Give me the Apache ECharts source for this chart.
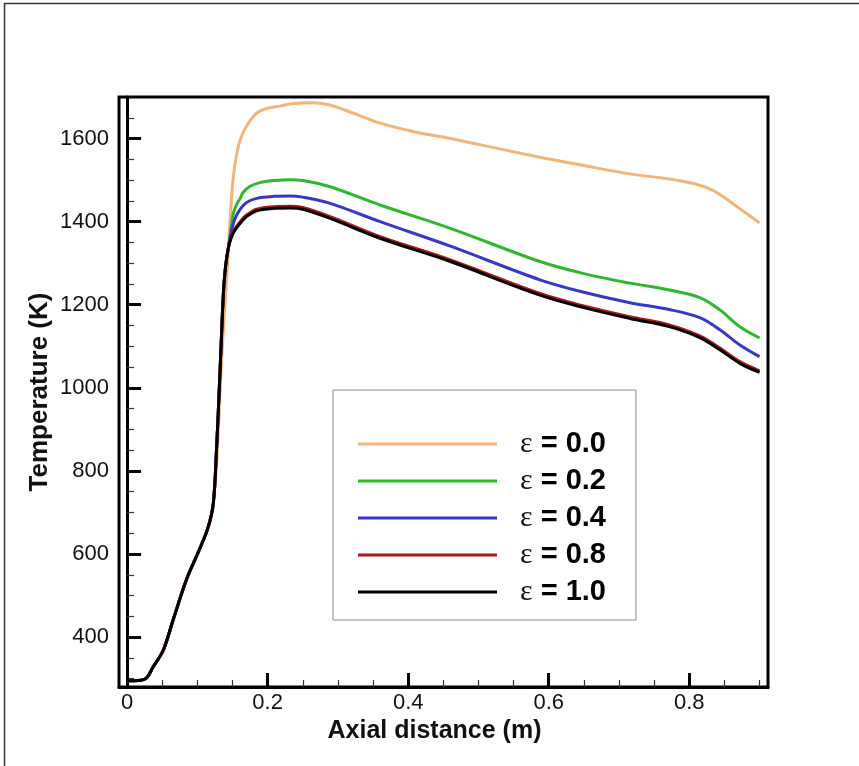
<!DOCTYPE html>
<html>
<head>
<meta charset="utf-8">
<script src="https://cdn.jsdelivr.net/npm/echarts@6/dist/echarts.min.js"></script>
<style>
html,body{margin:0;padding:0;background:#fff;}
#chart{width:859px;height:766px;}
</style>
</head>
<body>
<div id="chart"></div>
<script>
// ---- Data ----
const seriesNames = ['ε = 0.0', 'ε = 0.2', 'ε = 0.4', 'ε = 0.8', 'ε = 1.0'];
const seriesColors = ['#F2B578', '#2DB82D', '#3838C8', '#B01818', '#000000'];

// shared inlet / ignition part (all curves coincide)
const riseX = [0, 0.01, 0.02, 0.028, 0.037, 0.0516, 0.0658, 0.0848, 0.1037, 0.1156, 0.1227, 0.1275, 0.131, 0.134, 0.137, 0.140, 0.144];
const riseT = [295, 295, 296, 302, 328, 369, 443, 540, 614, 666, 722, 860, 990, 1110, 1225, 1290, 1336];

// ε = 0.0 departs from the common curve earlier
const e00X = [0.128, 0.1315, 0.135, 0.1385, 0.1417, 0.145, 0.148, 0.151, 0.156, 0.161, 0.17, 0.1844, 0.2, 0.2176, 0.232, 0.265, 0.285, 0.303, 0.33, 0.36, 0.407, 0.46, 0.5, 0.5875, 0.65, 0.7156, 0.77, 0.81, 0.835, 0.863, 0.9];
const e00T = [840, 960, 1080, 1180, 1260, 1360, 1440, 1505, 1563, 1597, 1630, 1661, 1673, 1678, 1683, 1686, 1682, 1673, 1656, 1637, 1617, 1600, 1586, 1555, 1535, 1515, 1503, 1490, 1474, 1442, 1397];

const e02X = [0.147, 0.151, 0.156, 0.161, 0.165, 0.175, 0.189, 0.21, 0.232, 0.25, 0.289, 0.36, 0.46, 0.5875, 0.65, 0.7156, 0.77, 0.815, 0.844, 0.872, 0.9];
const e02T = [1372, 1418, 1442, 1456, 1470, 1485, 1494, 1499, 1501, 1499, 1484, 1440, 1384, 1304, 1275, 1252, 1236, 1217, 1187, 1147, 1120];

const e04X = [0.148, 0.153, 0.161, 0.17, 0.1844, 0.21, 0.232, 0.25, 0.289, 0.36, 0.46, 0.5875, 0.65, 0.7156, 0.77, 0.815, 0.844, 0.872, 0.9];
const e04T = [1375, 1405, 1430, 1446, 1456, 1461, 1462, 1459, 1444, 1400, 1341, 1260, 1230, 1205, 1189, 1169, 1139, 1103, 1075];

const e08X = [0.148, 0.153, 0.161, 0.17, 0.1844, 0.21, 0.232, 0.25, 0.289, 0.36, 0.46, 0.5875, 0.65, 0.7156, 0.77, 0.815, 0.844, 0.872, 0.9];
const e08T = [1363, 1382, 1400, 1416, 1430, 1436, 1437, 1434, 1412, 1364, 1308, 1227, 1197, 1171, 1152, 1125, 1095, 1063, 1041];

const e10X = [0.148, 0.153, 0.161, 0.17, 0.1844, 0.21, 0.232, 0.25, 0.289, 0.36, 0.46, 0.5875, 0.65, 0.7156, 0.77, 0.815, 0.844, 0.872, 0.9];
const e10T = [1360, 1378, 1396, 1412, 1426, 1432, 1433, 1430, 1408, 1360, 1304, 1223, 1193, 1167, 1148, 1121, 1091, 1059, 1037];

// axes
const xMajorTicks = [0, 0.2, 0.4, 0.6, 0.8];
const xMinorTicks = [0.05, 0.1, 0.15, 0.25, 0.3, 0.35, 0.45, 0.5, 0.55, 0.65, 0.7, 0.75, 0.85, 0.9];
const yMajorTicks = [400, 600, 800, 1000, 1200, 1400, 1600];
const yMinorTicks = [300, 350, 450, 500, 550, 650, 700, 750, 850, 900, 950, 1050, 1100, 1150, 1250, 1300, 1350, 1450, 1500, 1550, 1650];
const xName = 'Axial distance (m)';
const yName = 'Temperature (K)';

// ---- build ----
function pairs(xs, ts) { return xs.map((x, i) => [x, ts[i]]); }
const orangeRise = pairs(riseX.slice(0, 11), riseT.slice(0, 11));
const fullRise = pairs(riseX, riseT);
const dataSets = [
  orangeRise.concat(pairs(e00X, e00T)),
  fullRise.concat(pairs(e02X, e02T)),
  fullRise.concat(pairs(e04X, e04T)),
  fullRise.concat(pairs(e08X, e08T)),
  fullRise.concat(pairs(e10X, e10T))
];

const X_MIN = -0.0115, X_MAX = 0.912, Y_MIN = 280, Y_MAX = 1700;
const font = 'Liberation Sans, Arial, sans-serif';

const chart = echarts.init(document.getElementById('chart'), null, {renderer: 'canvas'});

const option = {
  backgroundColor: '#ffffff',
  animation: false,
  grid: {
    left: 119, right: 91, top: 97, bottom: 79,
    show: true, borderColor: '#000', borderWidth: 3, backgroundColor: 'transparent'
  },
  xAxis: [{
    type: 'value', min: X_MIN, max: X_MAX, position: 'bottom',
    name: xName, nameLocation: 'middle', nameGap: 30,
    nameTextStyle: {fontFamily: font, fontSize: 25, fontWeight: 'bold', color: '#111', padding: [0, 18, 0, 0]},
    axisLine: {show: true, lineStyle: {color: '#000', width: 3}},
    axisTick: {show: true, inside: true, length: 14, customValues: xMajorTicks, lineStyle: {color: '#000', width: 3}},
    axisLabel: {show: true, margin: 5, customValues: xMajorTicks, fontFamily: font, fontSize: 22, color: '#111',
      formatter: v => (Math.abs(v) < 1e-9 ? '0' : String(+v.toFixed(1)))},
    splitLine: {show: false}
  }, {
    type: 'value', min: X_MIN, max: X_MAX, position: 'bottom',
    axisLine: {show: false},
    axisTick: {show: true, inside: true, length: 7, customValues: xMinorTicks, lineStyle: {color: '#333', width: 1.2}},
    axisLabel: {show: false},
    splitLine: {show: false}
  }],
  yAxis: [{
    type: 'value', min: Y_MIN, max: Y_MAX, position: 'left',
    name: yName, nameLocation: 'middle', nameGap: 66, nameRotate: 90, nameMoveOverlap: false,
    nameTextStyle: {fontFamily: font, fontSize: 26, fontWeight: 'bold', color: '#111'},
    axisLine: {show: true, lineStyle: {color: '#000', width: 3}},
    axisTick: {show: true, inside: true, length: 14, customValues: yMajorTicks, lineStyle: {color: '#000', width: 3}},
    axisLabel: {show: true, margin: 10, customValues: yMajorTicks, fontFamily: font, fontSize: 22, color: '#111',
      formatter: v => String(Math.round(v))},
    splitLine: {show: false}
  }, {
    type: 'value', min: Y_MIN, max: Y_MAX, position: 'left',
    axisLine: {show: false},
    axisTick: {show: true, inside: true, length: 7, customValues: yMinorTicks, lineStyle: {color: '#333', width: 1.2}},
    axisLabel: {show: false},
    splitLine: {show: false}
  }],
  legend: {
    data: seriesNames,
    orient: 'vertical',
    left: 333, top: 390,
    padding: [39, 30, 13, 25],
    borderColor: '#8a8a8a', borderWidth: 1,
    backgroundColor: '#fff',
    icon: 'rect', itemWidth: 139, itemHeight: 3, itemGap: 7,
    selectedMode: false,
    formatter: name => '{e|ε}{v|' + name.slice(1) + '}',
    textStyle: {
      color: '#000',
      rich: {
        e: {fontFamily: 'Liberation Serif, DejaVu Serif, serif', fontSize: 30, fontWeight: 'normal', color: '#111', padding: [0, 0, 0, 18], lineHeight: 30},
        v: {fontFamily: font, fontSize: 29, fontWeight: 'bold', color: '#000', lineHeight: 30}
      }
    }
  },
  graphic: [
    {type: 'line', shape: {x1: 4.5, y1: 3.5, x2: 4.5, y2: 766}, style: {stroke: '#333', lineWidth: 1.5}, silent: true},
    {type: 'line', shape: {x1: 4, y1: 3.5, x2: 859, y2: 3.5}, style: {stroke: '#333', lineWidth: 1.5}, silent: true}
  ],
  series: seriesNames.map((n, i) => ({
    name: n,
    type: 'line',
    xAxisIndex: 0, yAxisIndex: 0,
    data: dataSets[i],
    showSymbol: false,
    symbol: 'none',
    smooth: 0.35,
    clip: true,
    lineStyle: {color: seriesColors[i], width: 3},
    itemStyle: {color: seriesColors[i]},
    z: 2 + i
  }))
};
chart.setOption(option);
</script>
</body>
</html>
